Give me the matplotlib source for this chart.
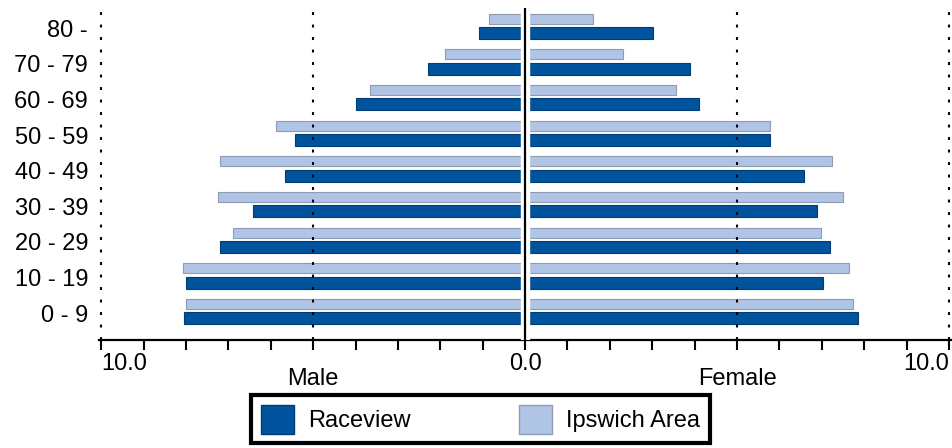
import numpy as np
import matplotlib
matplotlib.use('Agg')
import matplotlib.pyplot as plt
import matplotlib.transforms as mtransforms
from matplotlib.patches import Patch

plt.rcParams['font.family'] = ['Liberation Sans', 'DejaVu Sans']

ages = ['0 - 9', '10 - 19', '20 - 29', '30 - 39', '40 - 49',
        '50 - 59', '60 - 69', '70 - 79', '80 -']
# percent of population
male_raceview = [8.04, 7.99, 7.19, 6.42, 5.66, 5.43, 4.0, 2.30, 1.08]
male_ipswich = [7.99, 8.08, 6.89, 7.24, 7.19, 5.88, 3.67, 1.90, 0.85]
female_raceview = [7.85, 7.03, 7.19, 6.89, 6.58, 5.78, 4.11, 3.88, 3.01]
female_ipswich = [7.73, 7.64, 6.98, 7.50, 7.24, 5.78, 3.57, 2.30, 1.60]

dark = '#00539d'
light = '#b0c4e6'

fig = plt.figure(figsize=(9.53, 4.48), dpi=100)
ax = fig.add_axes([0.104, 0.241, 0.894, 0.741])

y = np.arange(len(ages))
ax.barh(y - 0.14, [-v for v in male_raceview], height=0.34, color=dark,
        edgecolor='#003d75', linewidth=0.8, zorder=2)
ax.barh(y - 0.14, female_raceview, height=0.34, color=dark,
        edgecolor='#003d75', linewidth=0.8, zorder=2)
ax.barh(y + 0.26, [-v for v in male_ipswich], height=0.28, color=light,
        edgecolor='#8e9bb0', linewidth=0.8, zorder=2)
ax.barh(y + 0.26, female_ipswich, height=0.28, color=light,
        edgecolor='#8e9bb0', linewidth=0.8, zorder=2)

# gap and centre line
ax.axvspan(-0.09, 0.09, color='white', zorder=3)
ax.axvline(0, color='black', lw=1.6, zorder=4)

for gx in [-10, -5, 5, 10]:
    ax.axvline(gx, color='black', lw=1.5, ls=(0, (1.4, 4.6)), zorder=4)

ax.set_xlim(-10.05, 10.05)
ax.set_ylim(-0.75, 8.56)

ax.set_yticks(y)
ax.set_yticklabels(ages, fontsize=17)
ax.tick_params(axis='y', length=0, pad=8)

ax.set_xticks([-10, 0, 10])
ax.set_xticklabels(['10.0', '0.0', '10.0'], fontsize=17)
lbls = ax.get_xticklabels()
lbls[0].set_ha('left')
lbls[2].set_ha('right')
ax.set_xticks(np.arange(-10, 11, 1), minor=True)
ax.tick_params(axis='x', which='both', direction='out', length=7, width=1.5,
               pad=2)

for s in ['top', 'right', 'left']:
    ax.spines[s].set_visible(False)
ax.spines['bottom'].set_linewidth(1.6)

tr = mtransforms.blended_transform_factory(ax.transData, fig.transFigure)
ax.text(-5, 0.154, 'Male', transform=tr, ha='center', va='center', fontsize=17)
ax.text(5, 0.154, 'Female', transform=tr, ha='center', va='center', fontsize=17)

handles = [Patch(facecolor=dark, edgecolor='#003d75', label='Raceview'),
           Patch(facecolor=light, edgecolor='#8e9bb0', label='Ipswich Area')]
leg = fig.legend(handles=handles, loc='center', bbox_to_anchor=(0.504, 0.064),
                 ncol=2, fontsize=17, frameon=True, fancybox=False,
                 framealpha=1, handlelength=1.4, handleheight=1.5,
                 columnspacing=4.6, borderpad=0.4, handletextpad=0.6,
                 borderaxespad=0)
leg.get_frame().set_edgecolor('black')
leg.get_frame().set_linewidth(3)

fig.savefig('out.png', dpi=100)
plt.close()
